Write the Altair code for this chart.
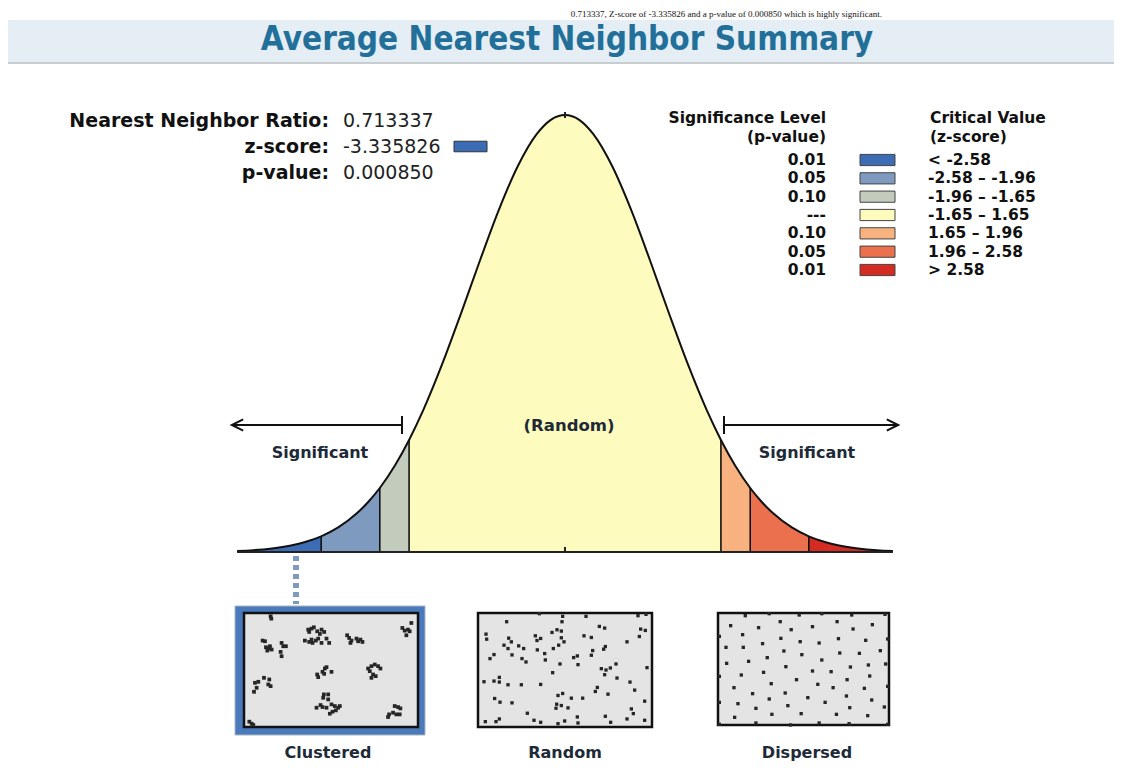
import altair as alt
import pandas as pd

FONT = "DejaVu Sans"
TITLE_FONT = "DejaVu Sans Condensed, DejaVu Sans"

# ---------------- text content ----------------
header_line = "0.713337, Z-score of -3.335826 and a p-value of 0.000850 which is highly significant."
title_text = "Average Nearest Neighbor Summary"

stat_labels = ["Nearest Neighbor Ratio:", "z-score:", "p-value:"]
stat_values = ["0.713337", "-3.335826", "0.000850"]

legend_p = ["0.01", "0.05", "0.10", "---", "0.10", "0.05", "0.01"]
legend_z = ["< -2.58", "-2.58 \u2013 -1.96", "-1.96 \u2013 -1.65", "-1.65 \u2013 1.65",
            "\u00a01.65 \u2013 1.96", "\u00a01.96 \u2013 2.58", "> 2.58"]
legend_colors = ["#3b6cb4", "#7e9abf", "#c3cbbd", "#fdfbbd", "#f8b27f", "#ea704e", "#d42c22"]

panel_labels = ["Clustered", "Random", "Dispersed"]

# ---------------- curve (z-score vs. density) ----------------
curve_z = [-3.47, -3.3, -3.1, -2.9, -2.75, -2.58, -2.4, -2.2, -2.08, -1.96, -1.8, -1.65,
           -1.5, -1.3, -1.1, -0.9, -0.7, -0.5, -0.3, -0.15, 0.0,
           0.15, 0.3, 0.5, 0.7, 0.9, 1.1, 1.3, 1.5,
           1.65, 1.8, 1.96, 2.08, 2.2, 2.4, 2.58, 2.75, 2.9, 3.1, 3.3, 3.47]
curve_d = [0.0010, 0.0017, 0.0033, 0.0060, 0.0091, 0.0143, 0.0224, 0.0355, 0.0459, 0.0584, 0.0790, 0.1023,
           0.1295, 0.1714, 0.2179, 0.2661, 0.3123, 0.3521, 0.3814, 0.3945, 0.3989,
           0.3945, 0.3814, 0.3521, 0.3123, 0.2661, 0.2179, 0.1714, 0.1295,
           0.1023, 0.0790, 0.0584, 0.0459, 0.0355, 0.0224, 0.0143, 0.0091, 0.0060, 0.0033, 0.0017, 0.0010]
critical_z = [-2.58, -1.96, -1.65, 1.65, 1.96, 2.58]

# ---------------- point patterns (sample units) ----------------
clus_x = [122, 124,
          235, 245, 252, 238, 262, 275, 283, 270, 225, 238, 248, 258, 265, 275, 290, 298, 245,
          352, 358, 365, 380, 385, 392, 398, 362,
          545, 518, 525, 535, 530, 540,
          98, 105, 108, 115, 120, 125, 112, 155, 160, 168, 152, 155,
          285, 290, 278, 262, 265, 305, 283,
          415, 425, 435, 445, 452, 420, 430, 438, 425,
          75, 85, 102, 118, 115, 122, 80, 72,
          282, 295, 280, 295, 272, 260, 278, 305, 315, 325, 318, 308, 300, 330, 290,
          495, 505, 512, 490, 500, 510, 478, 475,
          58, 65, 70]
clus_y = [55, 62,
          95, 92, 88, 102, 100, 95, 102, 108, 128, 132, 135, 128, 122, 135, 122, 135, 125,
          112, 120, 128, 122, 130, 125, 132, 135,
          75, 90, 98, 95, 112, 100,
          128, 130, 148, 152, 145, 155, 158, 135, 145, 145, 162, 175,
          212, 208, 222, 230, 238, 222, 228,
          212, 205, 200, 205, 212, 220, 230, 235, 240,
          255, 252, 240, 245, 260, 265, 270, 282,
          290, 290, 300, 305, 322, 330, 328, 320, 325, 330, 338, 342, 348, 325, 330,
          325, 328, 332, 345, 350, 350, 350, 358,
          372, 378, 382]

rand_x = [104, 202, 272, 270, 342, 498, 522,
          42, 44, 240, 255, 268, 382, 398, 506, 520,
          110, 118, 190, 195, 206, 268, 276, 336, 358, 465, 502,
          96, 108, 140, 155, 196, 244, 260, 362, 400, 395,
          66, 54, 120, 150, 162, 218, 220, 305, 316, 358, 264, 318,
          388, 402, 415, 432, 525, 242, 398,
          36, 66, 82, 82, 108, 148, 206, 435, 474,
          376, 370, 488, 408,
          258, 272, 298, 332, 68, 84, 120, 518,
          254, 268, 252, 288, 478, 484, 166,
          40, 72, 82, 186, 206, 258, 278, 316, 318, 400, 416, 465, 518]
rand_y = [48, 24, 32, 48, 32, 30, 26,
          85, 100, 80, 72, 76, 62, 67, 70, 74,
          97, 108, 90, 104, 98, 96, 108, 90, 95, 108, 92,
          118, 128, 120, 128, 132, 128, 118, 134, 122, 130,
          146, 158, 147, 158, 168, 143, 162, 155, 150, 148, 174, 176,
          188, 192, 186, 174, 185, 200, 206,
          227, 225, 214, 228, 236, 236, 235, 216, 228,
          244, 256, 252, 264,
          268, 262, 276, 276, 277, 288, 290, 285,
          294, 298, 306, 305, 308, 322, 321,
          346, 346, 338, 342, 348, 352, 344, 332, 350, 330, 348, 338, 342]

disp_x = [100, 172, 262, 330, 420, 520,
          56, 140, 205, 238, 302, 376, 424, 482,
          22, 92, 152, 207, 265, 322, 380, 462, 528,
          42, 94, 166, 216, 270, 330, 384, 443, 506,
          44, 110, 222, 302, 358, 416, 470, 522,
          22, 88, 155, 254, 318, 364, 406, 474, 528,
          66, 178, 122, 220, 288, 340, 404, 458, 480,
          22, 78, 132, 172, 228, 414, 518,
          68, 180, 268, 374, 468,
          22, 132, 236, 322, 412, 528]
disp_y = [30, 24, 28, 24, 28, 26,
          60, 66, 48, 72, 63, 48, 70, 57,
          92, 87, 114, 98, 108, 112, 99, 104, 100,
          125, 125, 156, 136, 147, 163, 142, 143, 135,
          173, 167, 183, 196, 198, 184, 178, 175,
          212, 208, 200, 222, 236, 246, 222, 211, 242,
          246, 234, 264, 262, 276, 290, 271, 248, 283,
          290, 294, 308, 280, 300, 306, 304,
          335, 326, 324, 326, 330,
          356, 352, 358, 352, 354, 356]

# ---------------- tables ----------------
one = pd.DataFrame({"k": [0]})

edges = [curve_z[0]] + critical_z + [curve_z[-1]]
seg_rows = []
for i, (lo, hi) in enumerate(zip(edges[:-1], edges[1:])):
    for z, d in zip(curve_z, curve_d):
        if lo - 1e-9 <= z <= hi + 1e-9:
            seg_rows.append({"z": z, "d": d, "seg": legend_z[i]})
df_seg = pd.DataFrame(seg_rows)
df_curve = pd.DataFrame({"z": curve_z, "d": curve_d})
dens = dict(zip(curve_z, curve_d))
df_crit = pd.DataFrame({"z": critical_z, "d": [dens[z] for z in critical_z]})

df_stats = pd.DataFrame({"label": stat_labels, "value": stat_values})
df_leg = pd.DataFrame({"p": legend_p, "zr": legend_z})


# ---------------- helpers for annotation marks ----------------
def txt(s, x, y, size, weight="normal", align="left", color="#222222", font=FONT, baseline="alphabetic"):
    return alt.Chart(one).mark_text(text=s, font=font, fontSize=size, fontWeight=weight, align=align,
                                    baseline=baseline, color=color).encode(x=alt.value(x), y=alt.value(y))


def rect(x1, y1, x2, y2, fill, stroke=None, sw=0):
    kw = dict(fill=fill)
    if stroke:
        kw.update(stroke=stroke, strokeWidth=sw)
    return alt.Chart(one).mark_rect(**kw).encode(x=alt.value(x1), x2=alt.value(x2),
                                                 y=alt.value(y1), y2=alt.value(y2))


def rule(x1, y1, x2, y2, color="#111111", sw=2, dash=None):
    kw = dict(color=color, strokeWidth=sw)
    if dash:
        kw["strokeDash"] = dash
    return alt.Chart(one).mark_rule(**kw).encode(x=alt.value(x1), x2=alt.value(x2),
                                                 y=alt.value(y1), y2=alt.value(y2))


def head(x, y, path):
    return alt.Chart(one).mark_point(shape=path, filled=False, stroke="#111111", strokeWidth=2,
                                     size=130, opacity=1).encode(x=alt.value(x), y=alt.value(y))


RECT_PATH = "M-1,-0.32H1V0.32H-1Z"
LBL = "#1e2a38"
LEG_SIZE = 15.5

# ---------------- header ----------------
bar_bg = rect(0, 12, 1106, 54, "#e4eef4")
bar_line = rule(0, 55, 1106, 55, color="#c8cdd0", sw=2)
header = txt(header_line, 874, 8.5, 9, font="Liberation Serif", align="right", color="#111111")
title = txt(title_text, 559, 42, 33, weight="bold", align="center", color="#22709a", font=TITLE_FONT)

# ---------------- stats ----------------
ys = alt.Y("label:N", scale=alt.Scale(type="point", domain=stat_labels, range=[119, 171], padding=0), axis=None)
stats = alt.layer(
    alt.Chart(df_stats).mark_text(align="right", font=FONT, fontSize=19, fontWeight="bold",
                                  color="#111111", baseline="alphabetic").encode(x=alt.value(321), y=ys, text="label:N"),
    alt.Chart(df_stats).mark_text(align="left", font=FONT, fontSize=19, color="#222222",
                                  baseline="alphabetic").encode(x=alt.value(335), y=ys, text="value:N"),
)
z_swatch = alt.Chart(one).mark_point(shape=RECT_PATH, filled=True, fill=legend_colors[0], stroke="#333333",
                                     strokeWidth=1, size=33 * 33, opacity=1).encode(x=alt.value(462.5), y=alt.value(138.5))

# ---------------- legend ----------------
yl = alt.Y("zr:N", scale=alt.Scale(type="point", domain=legend_z, range=[152, 262], padding=0), axis=None)
legend = alt.layer(
    alt.Chart(df_leg).mark_text(align="right", baseline="middle", font=FONT, fontSize=LEG_SIZE, fontWeight="bold",
                                color="#111111").encode(x=alt.value(818), y=yl, text="p:N"),
    alt.Chart(df_leg).mark_point(shape=RECT_PATH, filled=True, stroke="#444444", strokeWidth=1,
                                 size=35 * 35, opacity=1).encode(
        x=alt.value(869.5), y=yl,
        color=alt.Color("zr:N", scale=alt.Scale(domain=legend_z, range=legend_colors), legend=None)),
    alt.Chart(df_leg).mark_text(align="left", baseline="middle", font=FONT, fontSize=LEG_SIZE, fontWeight="bold",
                                color="#111111").encode(x=alt.value(920), y=yl, text="zr:N"),
)
leg_h1 = txt("Significance Level", 818, 115, LEG_SIZE, weight="bold", align="right", color="#111111")
leg_h2 = txt("(p-value)", 818, 134, LEG_SIZE, weight="bold", align="right", color="#111111")
leg_h3 = txt("Critical Value", 922, 115, LEG_SIZE, weight="bold", color="#111111")
leg_h4 = txt("(z-score)", 922, 134, LEG_SIZE, weight="bold", color="#111111")

# ---------------- bell curve ----------------
XZ = alt.Scale(domain=[-3.5, 3.5], range=[226.25, 887.75], nice=False, zero=False)
YD = alt.Scale(domain=[0, 0.3989], range=[544, 107], nice=False, zero=False)
xz = alt.X("z:Q", scale=XZ, axis=None)
yd = alt.Y("d:Q", scale=YD, axis=None, stack=None)
curve = alt.layer(
    alt.Chart(df_seg).mark_area(interpolate="monotone", opacity=1).encode(
        x=xz, y=yd, detail="seg:N",
        color=alt.Color("seg:N", scale=alt.Scale(domain=legend_z, range=legend_colors), legend=None)),
    alt.Chart(df_crit).mark_rule(color="#111111", strokeWidth=1.6).encode(x=xz, y=yd, y2=alt.datum(0)),
    alt.Chart(df_curve).mark_line(interpolate="monotone", color="#111111", strokeWidth=2).encode(x=xz, y=yd),
    alt.Chart(one).mark_rule(color="#222222", strokeWidth=2).encode(
        x=alt.datum(curve_z[0]), x2=alt.datum(curve_z[-1]), y=alt.datum(0)),
    alt.Chart(one).mark_rule(color="#222222", strokeWidth=2).encode(
        x=alt.datum(0), y=alt.value(539), y2=alt.value(544)),
    alt.Chart(one).mark_rule(color="#222222", strokeWidth=2).encode(
        x=alt.datum(0), y=alt.value(104), y2=alt.value(110)),
)

# ---------------- arrows and labels ----------------
arrows = [
    rule(224, 417, 394, 417), rule(394, 408, 394, 426),
    head(229.5, 417, "M1,-1L-1,0L1,1"),
    rule(716, 417, 890, 417), rule(716, 408, 716, 426),
    head(884.5, 417, "M-1,-1L1,0L-1,1"),
    txt("Significant", 312, 445, 16, weight="bold", align="center", baseline="middle", color=LBL),
    txt("Significant", 799, 445, 16, weight="bold", align="center", baseline="middle", color=LBL),
    txt("(Random)", 561, 418, 16.5, weight="bold", align="center", baseline="middle", color=LBL),
]

dotted = rule(288, 548, 288, 596, color="#7e9abf", sw=6, dash=[5, 4])


# ---------------- point panels ----------------
def panel(xs, ys_, dom_x, dom_y, rng_x, rng_y, size):
    df = pd.DataFrame({"x": xs, "y": ys_})
    return alt.Chart(df).mark_square(size=size, color="#262626", opacity=1).encode(
        x=alt.X("x:Q", scale=alt.Scale(domain=dom_x, range=rng_x, nice=False, zero=False), axis=None),
        y=alt.Y("y:Q", scale=alt.Scale(domain=dom_y, range=rng_y, nice=False, zero=False), axis=None),
    )


panels = [
    rect(227, 598, 417, 727, "#4a7abc", stroke="#a9b4bf", sw=1),
    rect(236, 605, 410, 719, "#e4e4e4", stroke="#111111", sw=2.5),
    rect(470, 605, 644, 719, "#e4e4e4", stroke="#111111", sw=2.5),
    rect(710, 605, 881, 717, "#e4e4e4", stroke="#111111", sw=2.5),
    panel(clus_x, clus_y, [42, 565], [45, 388], [236, 410], [605, 719], 14),
    panel(rand_x, rand_y, [18, 540], [22, 362], [470, 644], [605, 719], 11),
    panel(disp_x, disp_y, [18, 532], [22, 358], [710, 881], [605, 717], 11),
    txt(panel_labels[0], 320, 745, 16, weight="bold", align="center", baseline="middle", color=LBL),
    txt(panel_labels[1], 557, 745, 16, weight="bold", align="center", baseline="middle", color=LBL),
    txt(panel_labels[2], 799, 745, 16, weight="bold", align="center", baseline="middle", color=LBL),
]

layers = [bar_bg, bar_line, header, title, stats, z_swatch, legend, leg_h1, leg_h2, leg_h3, leg_h4,
          curve] + arrows + [dotted] + panels

chart = alt.layer(*layers).resolve_scale(
    x="independent", y="independent", color="independent"
).properties(
    width=1106, height=765, padding=0, autosize=alt.AutoSizeParams(type="none")
).configure_view(stroke=None)

chart.save("out.html", embed_options={"renderer": "svg", "actions": False})
